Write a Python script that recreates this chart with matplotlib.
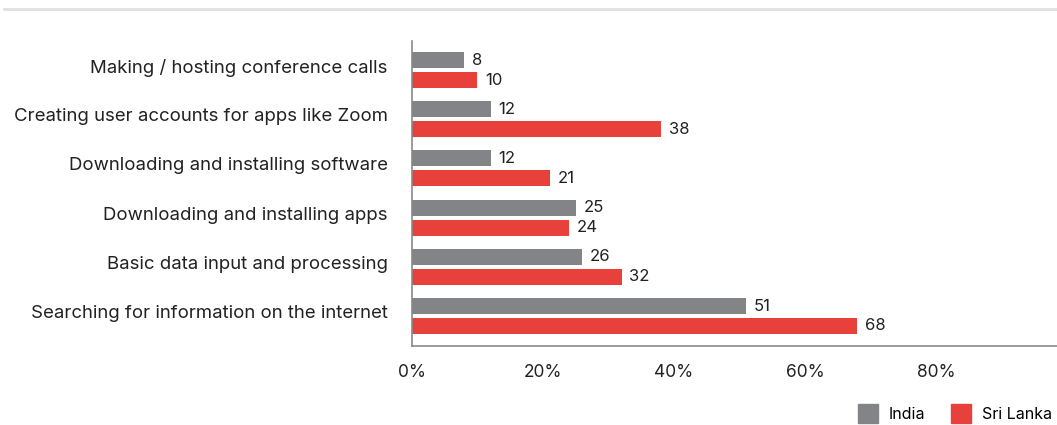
import matplotlib.pyplot as plt
from matplotlib.patches import Patch
from matplotlib.lines import Line2D
import numpy as np

# Skills reported, percent of respondents
categories = [
    "Making / hosting conference calls",
    "Creating user accounts for apps like Zoom",
    "Downloading and installing software",
    "Downloading and installing apps",
    "Basic data input and processing",
    "Searching for information on the internet",
]
india = [8, 12, 12, 25, 26, 51]
sri_lanka = [10, 38, 21, 24, 32, 68]
xticks = [0, 20, 40, 60, 80]

GREY = "#838488"
RED = "#E8403B"

plt.rcParams["font.family"] = ["Inter", "DejaVu Sans"]

fig = plt.figure(figsize=(10.57, 4.25), dpi=100)
ax = fig.add_axes([412 / 1057, 1 - 346 / 425, 645 / 1057, 305 / 425])

y = np.arange(len(categories))
h = 0.325
ax.barh(y - 0.203, india, height=h, color=GREY)
ax.barh(y + 0.203, sri_lanka, height=h, color=RED)

for yi, v in zip(y, india):
    ax.text(v + 1.2, yi - 0.203, str(v), va="center", ha="left", fontsize=12, color="#222")
for yi, v in zip(y, sri_lanka):
    ax.text(v + 1.2, yi + 0.203, str(v), va="center", ha="left", fontsize=12, color="#222")

ax.set_ylim(5.61, -0.59)
ax.set_xlim(0, 98.5)
# category labels sit a little above the group centre
ax.set_yticks(y - 0.09)
ax.set_yticklabels(categories, fontsize=13.4, color="#222")
ax.set_xticks(xticks)
ax.set_xticklabels([f"{t}%" for t in xticks], fontsize=12.5, color="#222")
ax.tick_params(axis="both", length=0)
ax.tick_params(axis="x", pad=13)
ax.tick_params(axis="y", pad=17.5)

for side in ["top", "right"]:
    ax.spines[side].set_visible(False)
for side in ["left", "bottom"]:
    ax.spines[side].set_color("#8a8a8a")
    ax.spines[side].set_linewidth(1.2)

# light rule along the top of the figure
fig.add_artist(Line2D([4 / 1057, 1], [1 - 9 / 425] * 2, color="#e0e0e0", linewidth=2))

handles = [Patch(color=GREY, label="India"), Patch(color=RED, label="Sri Lanka")]
fig.legend(handles=handles, loc="lower right", bbox_to_anchor=(1.009, -0.03), ncol=2,
           frameon=False, fontsize=11.5, handlelength=1.25, handleheight=1.5,
           handletextpad=0.7, columnspacing=1.6)

fig.savefig("out.png", dpi=100)
